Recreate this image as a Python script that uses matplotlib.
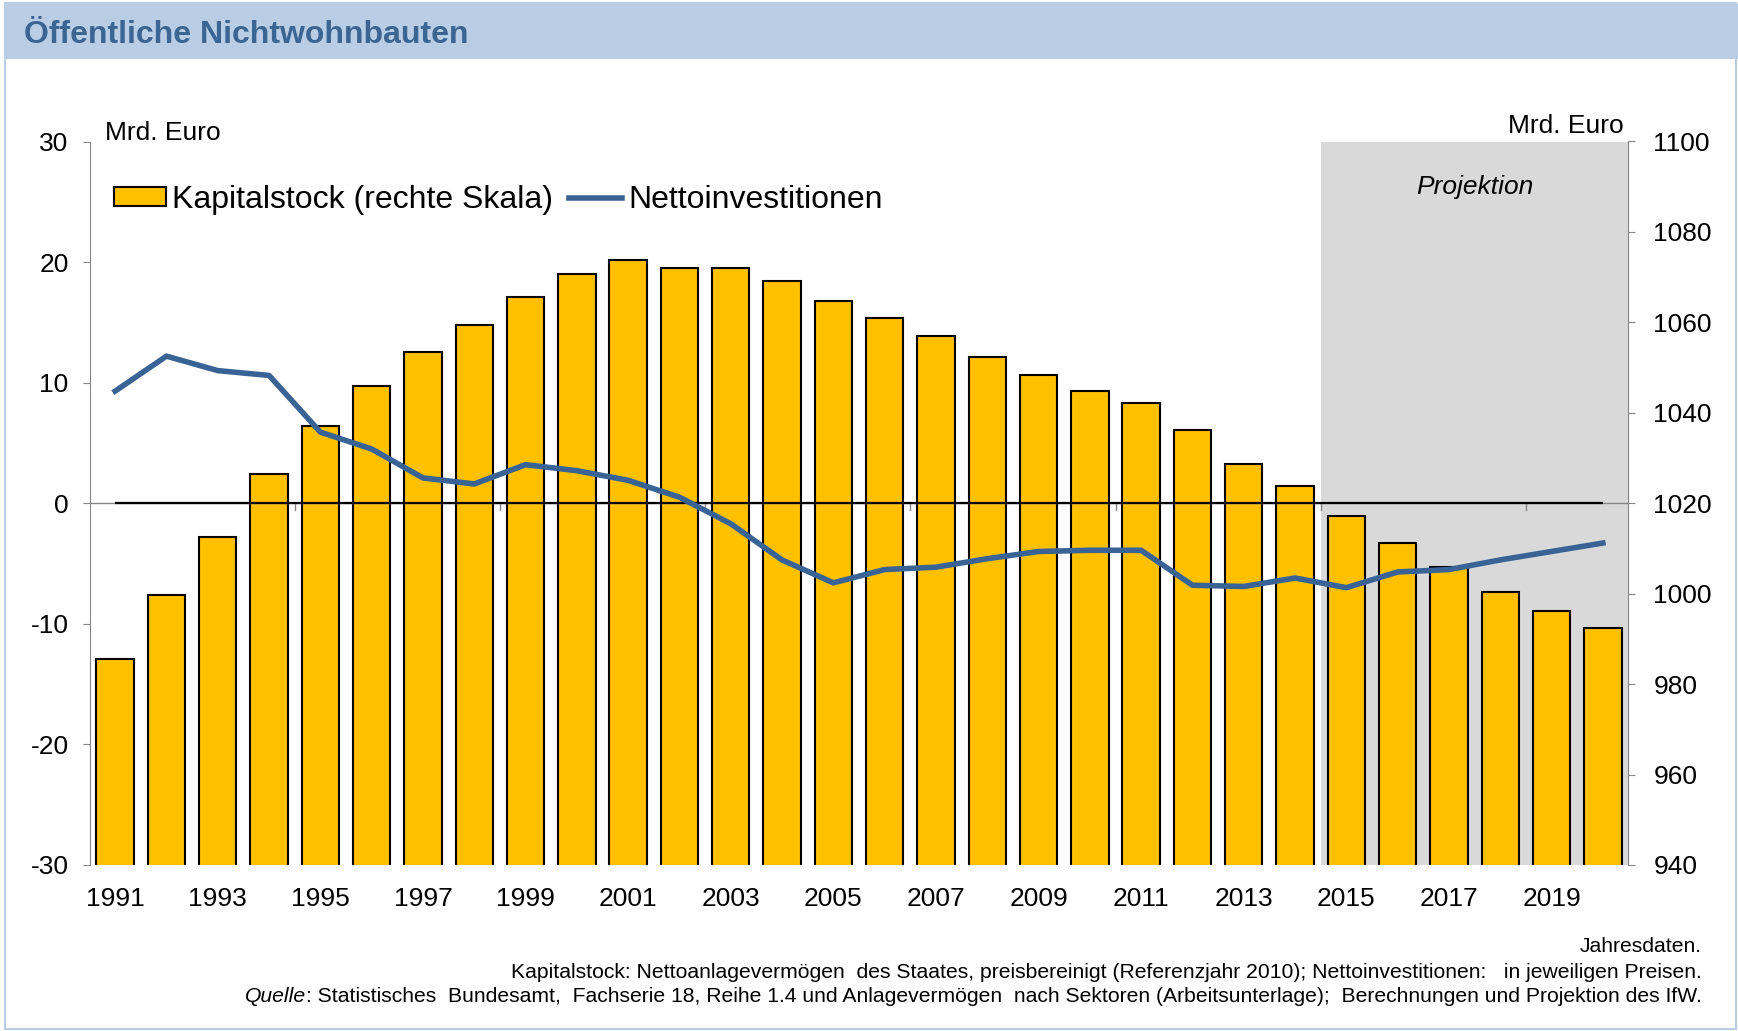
#!/usr/bin/env python3
"""Oeffentliche Nichtwohnbauten: Kapitalstock und Nettoinvestitionen."""

import numpy as np
from matplotlib import pyplot as plt
from matplotlib.patches import Rectangle

plt.rcParams['font.family'] = ['Liberation Sans', 'DejaVu Sans']
plt.rcParams['axes.unicode_minus'] = False

W, H = 1738, 1031

# data
jahre = list(range(1991, 2021))
kapitalstock = [985.6, 999.8, 1012.5, 1026.5, 1037.1, 1045.9, 1053.4, 1059.4, 1065.7, 1070.7,
                1073.9, 1072.0, 1072.0, 1069.2, 1064.7, 1061.0, 1057.0, 1052.4, 1048.3, 1044.8,
                1042.1, 1036.3, 1028.7, 1023.9, 1017.1, 1011.2, 1006.0, 1000.4, 996.2, 992.5]
nettoinv = [9.3, 12.2, 11.0, 10.6, 5.9, 4.5, 2.1, 1.6, 3.2, 2.7,
            1.9, 0.5, -1.7, -4.7, -6.6, -5.5, -5.3, -4.6, -4.0, -3.9,
            -3.9, -6.8, -6.9, -6.2, -7.0, -5.7, -5.5, -4.7, -4.0, -3.3]
x_labels = list(range(1991, 2021, 2))
left_ticks = [-30, -20, -10, 0, 10, 20, 30]
right_ticks = [940, 960, 980, 1000, 1020, 1040, 1060, 1080, 1100]
projektion_start = 2014.5

GOLD = '#FFC000'
BLUE = '#3A6395'
GREY = '#868686'


def fx(px):
    return px / W


def fy(py):
    return 1 - py / H


fig = plt.figure(figsize=(W / 100, H / 100), dpi=100)

# frame and title band
fig.patches.append(Rectangle((fx(5), fy(1029)), fx(1731), 1026 / H, transform=fig.transFigure,
                             facecolor='none', edgecolor='#B9CDE5', linewidth=1.5))
fig.patches.append(Rectangle((fx(5), fy(59)), fx(1733), 55 / H, transform=fig.transFigure,
                             facecolor='#B9CDE5', edgecolor='none'))
fig.text(fx(24), fy(35), 'Öffentliche Nichtwohnbauten', fontsize=23, fontweight='bold',
         color='#3B6592', va='center', ha='left')

ax = fig.add_axes([fx(89.5), fy(865), fx(1539), 723.5 / H])
ax2 = ax.twinx()
# bars on right scale, drawn below the line axis
ax2.set_zorder(1)
ax.set_zorder(2)
ax.patch.set_visible(False)

ax2.axvspan(projektion_start, 2020.5, color='#D9D9D9', zorder=0, linewidth=0)
ax2.bar(jahre, kapitalstock, width=0.73, color=GOLD, edgecolor='black', linewidth=1.5,
        zorder=2, label='Kapitalstock (rechte Skala)')
ax2.set_ylim(940, 1100)
ax2.set_yticks(right_ticks)

ax.axhline(0, color=GREY, linewidth=1, zorder=1)
ax.hlines(0, jahre[0], jahre[-1], color='black', linewidth=1.6, zorder=2)
for t in np.arange(1994.5, 2020, 4):
    ax.plot([t, t], [0, -0.55], color=GREY, linewidth=1, zorder=1)
ln, = ax.plot(jahre, nettoinv, color=BLUE, linewidth=4, zorder=3,
              solid_joinstyle='round', label='Nettoinvestitionen')
ax.set_ylim(-30, 30)
ax.set_yticks(left_ticks)
ax.set_xlim(1990.5, 2020.5)
ax.set_xticks(x_labels)
ax.set_xticklabels([str(j) for j in x_labels])

for a in (ax, ax2):
    for s in ('top', 'bottom'):
        a.spines[s].set_visible(False)
    a.spines['left'].set_color(GREY)
    a.spines['right'].set_color(GREY)
ax.spines['right'].set_visible(False)
ax2.spines['left'].set_visible(False)

ax.tick_params(axis='y', length=5, color=GREY, pad=10, labelsize=19)
ax2.tick_params(axis='y', length=5, color=GREY, pad=13, labelsize=19)
ax.tick_params(axis='x', length=0, pad=16, labelsize=19)

ax.text(0.5 * (projektion_start + 2020.5), 0.937, 'Projektion', transform=ax.get_xaxis_transform(),
        fontsize=19, style='italic', ha='center', va='center')

fig.text(fx(105), fy(133), 'Mrd. Euro', fontsize=19, ha='left', va='center')
fig.text(fx(1624), fy(126), 'Mrd. Euro', fontsize=19, ha='right', va='center')

bars = ax2.containers[0]
leg = ax.legend([bars, ln], ['Kapitalstock (rechte Skala)', 'Nettoinvestitionen'],
                loc='center left', bbox_to_anchor=(fx(114), fy(200)), bbox_transform=fig.transFigure,
                ncol=2, frameon=False, fontsize=23, handlelength=1.63, handleheight=0.55,
                handletextpad=0.2, columnspacing=0.5, borderpad=0, borderaxespad=0)

# footnotes
fs = 15.2
xr = fx(1702)
fig.text(xr, fy(947), 'Jahresdaten.', fontsize=fs, ha='right', va='center')
fig.text(xr, fy(972), 'Kapitalstock: Nettoanlagevermögen  des Staates, preisbereinigt (Referenzjahr 2010); '
         'Nettoinvestitionen:   in jeweiligen Preisen.', fontsize=fs, ha='right', va='center')
t3 = fig.text(xr, fy(997), ': Statistisches  Bundesamt,  Fachserie 18, Reihe 1.4 und Anlagevermögen  nach '
              'Sektoren (Arbeitsunterlage);  Berechnungen und Projektion des IfW.',
              fontsize=fs, ha='right', va='center')
r = fig.canvas.get_renderer()
bb = t3.get_window_extent(renderer=r)
fig.text(bb.x0 / W, fy(997), 'Quelle', fontsize=fs, style='italic', ha='right', va='center')

plt.savefig('out.png', dpi=100)
